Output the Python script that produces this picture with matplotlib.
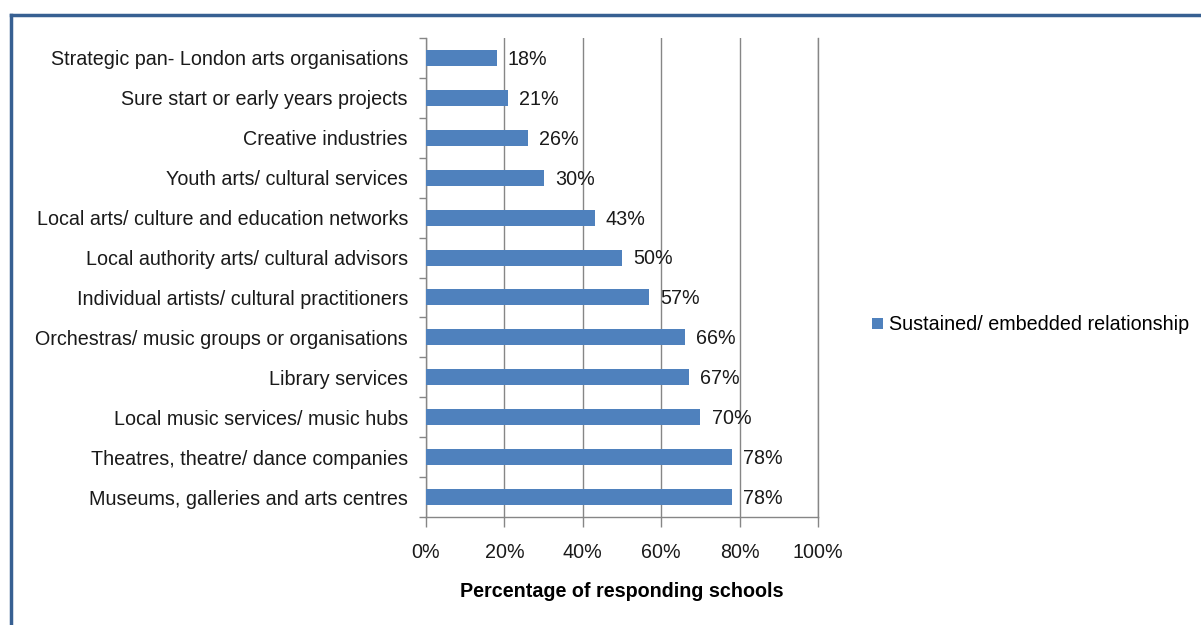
import numpy as np
import matplotlib.pyplot as plt
from matplotlib.lines import Line2D

# --- Data (top to bottom as shown) ---
categories = [
    "Strategic pan- London arts organisations",
    "Sure start or early years projects",
    "Creative industries",
    "Youth arts/ cultural services",
    "Local arts/ culture and education networks",
    "Local authority arts/ cultural advisors",
    "Individual artists/ cultural practitioners",
    "Orchestras/ music groups or organisations",
    "Library services",
    "Local music services/ music hubs",
    "Theatres, theatre/ dance companies",
    "Museums, galleries and arts centres",
]
values = [18, 21, 26, 30, 43, 50, 57, 66, 67, 70, 78, 78]
series_name = "Sustained/ embedded relationship"
x_ticks = [0, 20, 40, 60, 80, 100]

plt.rcParams["font.family"] = ["Liberation Sans", "DejaVu Sans"]

fig = plt.figure(figsize=(12.01, 6.25), dpi=100)
ax = fig.add_axes([0.3547, 0.1728, 0.3264, 0.7664])

bar_color = "#4F81BD"
grid_color = "#868686"
fs = 14.2
y = np.arange(len(categories))
bars = ax.barh(y, values, height=0.4, color=bar_color, label=series_name, zorder=3)

ax.set_ylim(len(categories) - 0.5, -0.5)
ax.set_xlim(0, 100)

# value labels
for yi, v in zip(y, values):
    ax.annotate(f"{v}%", (v, yi), xytext=(8, -1), textcoords="offset points",
                va="center", ha="left", fontsize=fs, color="#1a1a1a", zorder=4)

# y axis: labels at centres, tick marks at category boundaries
ax.set_yticks(y)
ax.set_yticklabels(categories, fontsize=fs, color="#1a1a1a")
ax.tick_params(axis="y", which="major", length=0, pad=13)
ax.set_yticks(np.arange(-0.5, len(categories)), minor=True)
ax.tick_params(axis="y", which="minor", length=5, width=1, color=grid_color, direction="out")

# x axis
ax.set_xticks(x_ticks)
ax.set_xticklabels([f"{t}%" for t in x_ticks], fontsize=fs, color="#1a1a1a")
ax.tick_params(axis="x", length=7, width=1, color=grid_color, direction="out", pad=12)
ax.set_xlabel("Percentage of responding schools", fontsize=fs, fontweight="bold", labelpad=14)

ax.grid(axis="x", color=grid_color, linewidth=1, zorder=0)
ax.axvline(100, color=grid_color, linewidth=1, zorder=0, clip_on=False)
for side in ["top", "right"]:
    ax.spines[side].set_visible(False)
for side in ["left", "bottom"]:
    ax.spines[side].set_color(grid_color)
    ax.spines[side].set_linewidth(1)

# legend
fig.legend(handles=[bars], labels=[series_name], loc="center left",
           bbox_to_anchor=(0.711, 0.48), frameon=False, fontsize=fs,
           handlelength=0.55, handleheight=0.55, handletextpad=0.35)

# outer border (top and left edges visible)
border = "#376092"
fig.add_artist(Line2D([0.0095, 1.0], [0.9760, 0.9760], transform=fig.transFigure,
                      color=border, linewidth=2.5))
fig.add_artist(Line2D([0.0095, 0.0095], [0.0, 0.9760], transform=fig.transFigure,
                      color=border, linewidth=2.5))

fig.savefig("out.png", dpi=100)
